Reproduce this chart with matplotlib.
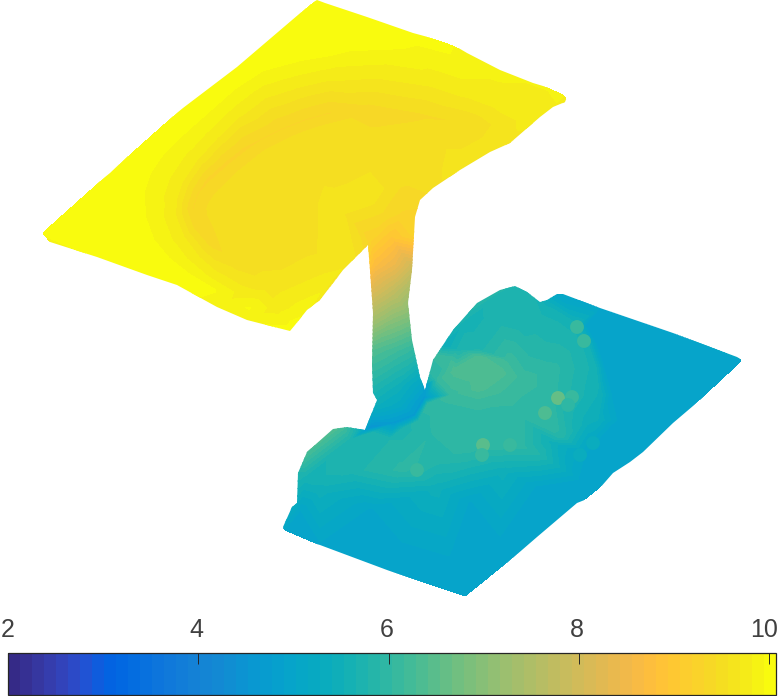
import matplotlib
matplotlib.use("Agg")
import matplotlib.pyplot as plt
import numpy as np
from matplotlib.colors import ListedColormap, Normalize
from matplotlib.cm import ScalarMappable
from matplotlib.patches import Polygon
from matplotlib.transforms import ScaledTranslation

parula = [
    (0.2081, 0.1663, 0.5292), (0.2116, 0.1898, 0.5777), (0.2123, 0.2138, 0.6270), (0.2081, 0.2386, 0.6771),
    (0.1959, 0.2645, 0.7279), (0.1707, 0.2919, 0.7792), (0.1253, 0.3242, 0.8303), (0.0591, 0.3598, 0.8683),
    (0.0117, 0.3875, 0.8820), (0.0060, 0.4086, 0.8828), (0.0165, 0.4266, 0.8786), (0.0329, 0.4430, 0.8720),
    (0.0498, 0.4586, 0.8641), (0.0629, 0.4737, 0.8554), (0.0723, 0.4887, 0.8467), (0.0779, 0.5040, 0.8384),
    (0.0793, 0.5200, 0.8312), (0.0749, 0.5375, 0.8263), (0.0641, 0.5570, 0.8240), (0.0488, 0.5772, 0.8228),
    (0.0343, 0.5966, 0.8199), (0.0265, 0.6137, 0.8135), (0.0239, 0.6287, 0.8038), (0.0231, 0.6418, 0.7913),
    (0.0228, 0.6535, 0.7768), (0.0267, 0.6642, 0.7607), (0.0384, 0.6743, 0.7436), (0.0590, 0.6838, 0.7254),
    (0.0843, 0.6928, 0.7062), (0.1133, 0.7015, 0.6859), (0.1453, 0.7098, 0.6646), (0.1801, 0.7177, 0.6424),
    (0.2178, 0.7250, 0.6193), (0.2586, 0.7317, 0.5954), (0.3022, 0.7376, 0.5712), (0.3482, 0.7424, 0.5473),
    (0.3953, 0.7459, 0.5244), (0.4420, 0.7481, 0.5033), (0.4871, 0.7491, 0.4840), (0.5300, 0.7491, 0.4661),
    (0.5709, 0.7485, 0.4494), (0.6099, 0.7473, 0.4337), (0.6473, 0.7456, 0.4188), (0.6834, 0.7435, 0.4044),
    (0.7184, 0.7411, 0.3905), (0.7525, 0.7384, 0.3768), (0.7858, 0.7356, 0.3633), (0.8185, 0.7327, 0.3498),
    (0.8507, 0.7299, 0.3360), (0.8824, 0.7274, 0.3217), (0.9139, 0.7258, 0.3063), (0.9450, 0.7261, 0.2886),
    (0.9739, 0.7314, 0.2666), (0.9938, 0.7455, 0.2403), (0.9990, 0.7653, 0.2164), (0.9955, 0.7861, 0.1967),
    (0.9880, 0.8066, 0.1794), (0.9789, 0.8271, 0.1633), (0.9697, 0.8481, 0.1475), (0.9626, 0.8705, 0.1309),
    (0.9589, 0.8949, 0.1132), (0.9598, 0.9218, 0.0948), (0.9661, 0.9514, 0.0755), (0.9763, 0.9831, 0.0538),
]

vmin = 2
vmax = 10.07
cbar_ticks = [2, 4, 6, 8, 10]

# silhouette of the projected surface, screen coordinates
outline_x = [317, 325, 367, 413, 450, 467, 500, 533, 563, 567, 565, 553, 540, 510, 490, 460, 433, 420, 415, 412,
             408, 412, 420, 425, 433, 453, 477, 500, 515, 527, 540, 547, 557, 563, 600, 673, 737, 742, 742, 720,
             673, 643, 630, 613, 592, 577, 537, 470, 463, 387, 320, 285, 283, 292, 297, 298, 307, 333, 347, 365,
             377, 373, 372, 373, 370, 368, 343, 320, 307, 295, 290, 247, 217, 177, 147, 97, 47, 41, 43, 73,
             110, 150, 183, 237, 312]
outline_y = [0, 3, 17, 33, 43, 53, 70, 83, 92, 97, 102, 107, 117, 143, 152, 170, 188, 200, 217, 270,
             303, 340, 377, 390, 360, 330, 303, 290, 286, 292, 302, 300, 294, 294, 308, 333, 357, 360, 365, 383,
             423, 452, 462, 473, 497, 503, 537, 595, 597, 570, 545, 535, 527, 507, 503, 473, 452, 429, 427, 430,
             400, 393, 365, 313, 270, 245, 270, 300, 310, 325, 331, 320, 307, 285, 275, 257, 241, 235, 228, 203,
             173, 135, 108, 67, 3]

# upper sheet: outer edge
edge_x = [317, 237, 183, 110, 43, 97, 147, 177, 217, 247, 290, 295, 307, 330, 350, 365,
          340, 367, 413, 450, 500, 540, 563, 553, 510, 460, 433, 420]
edge_y = [0, 67, 108, 173, 233, 257, 275, 285, 307, 320, 331, 325, 310, 280, 262, 245,
          8, 18, 35, 45, 72, 88, 95, 107, 140, 168, 186, 200]
edge_v = [10, 10, 10, 10, 10, 10, 10, 10, 9.9, 9.9, 10, 10, 9.9, 9.75, 9.65, 9.4,
          10, 10, 10, 9.95, 9.85, 9.8, 9.85, 9.8, 9.65, 9.65, 9.52, 9.35]

# upper sheet: curved bands, outermost first
band1_x = [330, 300, 263, 235, 210, 185, 163, 150, 143, 145, 153, 168, 187, 215, 250, 350, 400, 447]
band1_y = [55, 60, 70, 88, 110, 132, 153, 172, 193, 218, 240, 258, 273, 290, 308, 50, 48, 52]
band1_v = [9.95] * 18
band2_x = [330, 295, 263, 238, 217, 197, 180, 174, 173, 182, 197, 218, 243, 275, 380, 433, 470, 500, 527]
band2_y = [75, 83, 93, 112, 133, 155, 180, 198, 217, 240, 260, 278, 293, 308, 72, 80, 92, 103, 117]
band2_v = [9.75] * 19
band3_x = [330, 305, 280, 260, 243, 224, 207, 198, 193, 198, 210, 367, 420, 467]
band3_y = [113, 120, 130, 140, 150, 165, 180, 193, 207, 225, 240, 110, 115, 123]
band3_v = [9.3, 9.3, 9.3, 9.3, 9.28, 9.28, 9.28, 9.3, 9.3, 9.32, 9.35, 9.38, 9.42, 9.45]
inner_x = [330, 300, 270, 245, 225, 215, 225, 250, 235, 270, 300, 330, 370, 400, 440, 500, 490, 433, 400, 320, 340, 370, 300, 320]
inner_y = [130, 140, 155, 175, 195, 210, 235, 255, 265, 285, 200, 170, 150, 150, 140, 125, 145, 170, 175, 180, 210, 200, 250, 270]
inner_v = [9.52, 9.52, 9.52, 9.52, 9.52, 9.52, 9.52, 9.52, 9.52, 9.6, 9.52, 9.52, 9.52, 9.52, 9.52, 9.6, 9.62, 9.52, 9.5, 9.55, 9.62, 9.62, 9.52, 9.65]

# neck
neck_x = [385, 402, 371, 392, 412, 375, 395, 410, 375, 392, 410, 374, 392, 410, 373, 395, 414, 373, 398, 420, 378, 400]
neck_y = [215, 213, 240, 238, 235, 265, 265, 265, 290, 290, 290, 320, 320, 320, 350, 350, 350, 385, 385, 385, 405, 405]
neck_v = [9.4, 9.3, 9.2, 8.9, 9.2, 8.7, 8.4, 8.0, 8.1, 7.8, 7.4, 7.3, 7.0, 6.8, 6.4, 6.2, 6.0, 5.8, 5.5, 5.1, 5.4, 5.2]

# blue valley behind the front hill and the hill's front edge
valley_x = [370, 395, 415, 425, 426, 372]
valley_y = [428, 423, 415, 398, 385, 415]
valley_v = [4.5, 4.7, 4.7, 4.7, 4.8, 5.1]
front_x = [372, 403, 419, 428, 436]
front_y = [433, 429, 421, 404, 378]
front_v = [5.72, 5.72, 5.84, 5.97, 5.97]

# dome
ridge_x = [445, 470, 498, 515, 530, 545, 560]
ridge_y = [345, 318, 295, 287, 295, 303, 296]
ridge_v = [5.4, 5.6, 5.72, 5.72, 5.72, 5.5, 5.0]
plateau_x = [477, 455, 500, 478, 478, 438, 452, 478, 505, 522, 510, 450]
plateau_y = [377, 370, 372, 357, 388, 380, 395, 402, 395, 378, 360, 358]
plateau_v = [6.35, 6.35, 6.35, 6.35, 6.35, 6.1, 6.1, 6.1, 6.1, 6.1, 6.1, 6.1]
ring_x = [440, 478, 520, 550, 555, 530]
ring_y = [410, 418, 415, 395, 370, 350]
ring_v = [5.97, 5.97, 5.97, 5.97, 5.95, 5.85]
teal_x = [478, 520, 500, 460, 560, 575, 540]
teal_y = [349, 325, 320, 350, 335, 345, 320]
teal_v = [5.72] * 7
rim_in_x = [575, 587, 595, 600, 598]
rim_in_y = [325, 343, 368, 395, 420]
rim_in_v = [5.6, 5.6, 5.6, 5.5, 5.4]
rim_out_x = [585, 597, 605, 612, 618]
rim_out_y = [325, 345, 370, 395, 420]
rim_out_v = [5.0, 5.0, 5.0, 5.0, 5.0]

# front slope towards the lower sheet
slope_x = [350, 390, 430, 470, 520, 560, 305, 350, 403, 437, 470, 540, 575, 320, 437, 503, 553, 587]
slope_y = [440, 440, 435, 448, 445, 435, 478, 470, 470, 460, 457, 455, 430, 490, 487, 470, 443, 420]
slope_v = [5.72, 5.78, 5.9, 5.97, 5.97, 5.9, 5.6, 5.72, 5.95, 5.84, 5.84, 5.78, 5.6, 5.47, 5.47, 5.47, 5.47, 5.47]
blue_edge_x = [300, 370, 470, 537, 587, 612]
blue_edge_y = [512, 510, 503, 487, 453, 425]
blue_edge_v = [5.0] * 6

# flat lower sheet
sheet_x = [600, 673, 741, 673, 643, 613, 577, 537, 465, 387, 320, 285, 620, 660, 640, 400, 450, 500, 580]
sheet_y = [308, 333, 361, 423, 452, 473, 503, 537, 596, 570, 545, 530, 360, 390, 400, 545, 560, 540, 480]
sheet_v = [5.0] * 19

# single points standing out of the surface
bump_x = [558, 545, 483, 482, 577, 584, 417, 572, 568, 593, 580, 510]
bump_y = [398, 413, 445, 455, 327, 341, 470, 397, 405, 443, 455, 445]
bump_v = [6.55, 6.4, 6.45, 6.1, 6.05, 6.05, 6.1, 6.05, 5.95, 5.35, 5.35, 6.15]

cmap = ListedColormap(parula)
norm = Normalize(vmin, vmax)

fig = plt.figure(figsize=(7.82, 6.96), dpi=100)
ax = fig.add_axes([0, 0, 1, 1])
ax.set_xlim(0, 782)
ax.set_ylim(696, 0)
ax.axis("off")

xs = np.array(edge_x + band1_x + band2_x + band3_x + inner_x + neck_x + valley_x + front_x + ridge_x
              + plateau_x + ring_x + teal_x + rim_in_x + rim_out_x + slope_x + blue_edge_x + sheet_x, dtype=float)
ys = np.array(edge_y + band1_y + band2_y + band3_y + inner_y + neck_y + valley_y + front_y + ridge_y
              + plateau_y + ring_y + teal_y + rim_in_y + rim_out_y + slope_y + blue_edge_y + sheet_y, dtype=float)
vs = np.array(edge_v + band1_v + band2_v + band3_v + inner_v + neck_v + valley_v + front_v + ridge_v
              + plateau_v + ring_v + teal_v + rim_in_v + rim_out_v + slope_v + blue_edge_v + sheet_v, dtype=float)

shape = Polygon(np.column_stack([outline_x, outline_y]), closed=True, facecolor="none", edgecolor="none",
                transform=ax.transData)
ax.add_patch(shape)

levels = np.linspace(vmin, vmax, 65)
surf = ax.tricontourf(xs, ys, vs, levels=levels, cmap=cmap, norm=norm, antialiased=False)
surf.set_clip_path(shape)

ax.scatter(bump_x, bump_y, c=bump_v, cmap=cmap, norm=norm, s=100, linewidths=0, zorder=3)

# colorbar
cax = fig.add_axes([8 / 782, 1 - 695 / 696, 768 / 782, 42 / 696])
cb = fig.colorbar(ScalarMappable(norm=norm, cmap=cmap), cax=cax, orientation="horizontal")
cb.set_ticks(cbar_ticks)
cax.xaxis.set_ticks_position("top")
cax.tick_params(axis="x", direction="in", length=8, width=0.7, color="#262626", pad=8,
                labelsize=18, labelcolor="#404040")
labels = cax.get_xticklabels()
for lab in labels:
    lab.set_fontfamily("Liberation Sans")
    lab.set_transform(lab.get_transform() + ScaledTranslation(-2 / 100, 0, fig.dpi_scale_trans))
labels[0].set_transform(labels[0].get_transform() + ScaledTranslation(2 / 100, 0, fig.dpi_scale_trans))
labels[-1].set_transform(labels[-1].get_transform() + ScaledTranslation(-3 / 100, 0, fig.dpi_scale_trans))
cb.outline.set_linewidth(0.9)
cb.outline.set_edgecolor("#262626")

fig.savefig("out.png", dpi=100)
